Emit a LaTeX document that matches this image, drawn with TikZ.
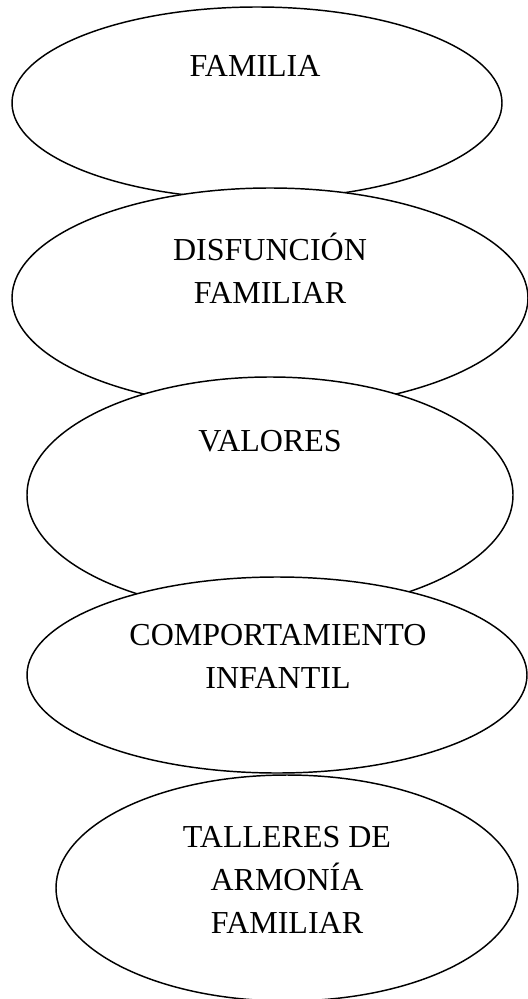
\documentclass[tikz,border=0pt]{standalone}
\usepackage{fontspec}
\setmainfont{Liberation Serif}
\usetikzlibrary{shapes.geometric}

\tikzset{
  bubble/.style={shape=ellipse, draw, fill=white, line width=1.1pt, inner sep=0pt},
  tag/.style={anchor=base, inner sep=0pt, align=center, font=\fontsize{24}{32.25}\selectfont}
}

\begin{document}
\begin{tikzpicture}[x=0.75pt, y=-0.75pt]
        \useasboundingbox (0,0) rectangle (528,999);
        % base anchor sits on the last line
        \node[bubble, minimum width=367.5pt, minimum height=144pt] (fam) at (257,103) {};
        \node[tag] (famT) at (255,77) {FAMILIA};
        \node[bubble, minimum width=387pt, minimum height=165pt] (dis) at (270,298) {};
        \node[tag] (disT) at (270,303) {DISFUNCIÓN\\FAMILIAR};
        \node[bubble, minimum width=364.5pt, minimum height=177pt] (val) at (270,495) {};
        \node[tag] (valT) at (270,451) {VALORES};
        \node[bubble, minimum width=375pt, minimum height=147pt] (com) at (277,675) {};
        \node[tag] (comT) at (278,688) {COMPORTAMIENTO\\INFANTIL};
        \node[bubble, minimum width=346.5pt, minimum height=169.5pt] (tal) at (287,888) {};
        \node[tag] (talT) at (287,933) {TALLERES DE\\ARMONÍA\\FAMILIAR};
    \end{tikzpicture}
\end{document}
